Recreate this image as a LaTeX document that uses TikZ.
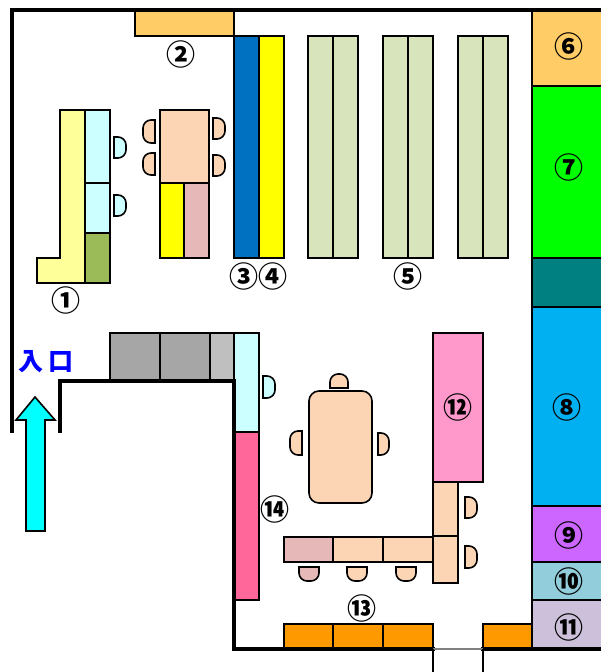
\documentclass[tikz,border=0pt]{standalone}
\usepackage{fontspec}
\newfontfamily\jpfont{Noto Sans CJK JP}
\definecolor{peach}{HTML}{FCD5B5}
\definecolor{palecyan}{HTML}{CCFFFF}
\definecolor{dustpink}{HTML}{E6B9B8}
\definecolor{sand}{HTML}{FFCC66}
\definecolor{sage}{HTML}{D8E4BC}
\definecolor{arrowcyan}{HTML}{00FFFF}
\definecolor{brightgreen}{HTML}{00FF00}
\definecolor{brightyellow}{HTML}{FFFF00}
\definecolor{entryblue}{HTML}{0000FF}
\tikzset{
  wall/.style={line width=4pt,line cap=rect,line join=miter},
  shelf/.style={draw,line width=2.4pt,line join=miter},
  chair/.style={draw,line width=1.6pt},
  num/.style={font=\jpfont\bfseries\fontsize{29}{29}\selectfont,inner sep=0pt},
}
\begin{document}
\begin{tikzpicture}[x=1pt,y=-1pt]
\useasboundingbox (0,0) rectangle (600,672);
%% upper left counters
\draw[shelf,fill=sand] (135,10) rectangle (234,36);
\draw[shelf,fill={rgb,255:red,255;green,255;blue,153}] (60,110) -- (85,110) -- (85,283) -- (37,283) -- (37,258) -- (60,258) -- cycle;
\draw[shelf,fill=palecyan] (85,110) rectangle (110,183);
\draw[shelf,fill=palecyan] (85,183) rectangle (110,233);
\draw[shelf,fill={rgb,255:red,155;green,187;blue,89}] (85,233) rectangle (110,283);
\draw[chair,fill=palecyan] (114,137) [rounded corners=8] -- (126,137) -- (126,158) [sharp corners] -- (114,158) -- cycle;
\draw[chair,fill=palecyan] (114,195) [rounded corners=8] -- (126,195) -- (126,216) [sharp corners] -- (114,216) -- cycle;
\draw[shelf,fill=peach] (160,110) rectangle (209,183);
\draw[shelf,fill=brightyellow] (160,183) rectangle (184,258);
\draw[shelf,fill=dustpink] (184,183) rectangle (209,258);
\draw[chair,fill=peach] (155,120) [rounded corners=8] -- (143,120) -- (143,143) [sharp corners] -- (155,143) -- cycle;
\draw[chair,fill=peach] (155,153) [rounded corners=8] -- (143,153) -- (143,175) [sharp corners] -- (155,175) -- cycle;
\draw[chair,fill=peach] (213,118) [rounded corners=8] -- (225,118) -- (225,139) [sharp corners] -- (213,139) -- cycle;
\draw[chair,fill=peach] (213,155) [rounded corners=8] -- (225,155) -- (225,176) [sharp corners] -- (213,176) -- cycle;
%% tall shelves
\draw[shelf,fill={rgb,255:red,0;green,112;blue,192}] (234,36) rectangle (259,258);
\draw[shelf,fill=brightyellow] (259,36) rectangle (284,258);
\foreach \xa in {308,383,458}{
  \draw[shelf,fill=sage] (\xa,36) rectangle ++(25,222);
  \draw[shelf,fill=sage] (\xa+25,36) rectangle ++(25,222);
}
%% right side cases
\draw[shelf,fill=sand] (532,10) rectangle (602,86);
\draw[shelf,fill=brightgreen] (532,86) rectangle (602,258);
\draw[shelf,fill={rgb,255:red,0;green,128;blue,128}] (532,258) rectangle (602,307);
\draw[shelf,fill={rgb,255:red,0;green,176;blue,240}] (532,307) rectangle (602,506);
\draw[shelf,fill={rgb,255:red,204;green,102;blue,255}] (532,506) rectangle (602,562);
\draw[shelf,fill={rgb,255:red,146;green,205;blue,220}] (532,562) rectangle (602,600);
\draw[shelf,fill={rgb,255:red,204;green,192;blue,218}] (532,600) rectangle (602,649);
%% entrance side
\draw[shelf,fill={rgb,255:red,166;green,166;blue,166}] (110,333) rectangle (160,381);
\draw[shelf,fill={rgb,255:red,166;green,166;blue,166}] (160,333) rectangle (210,381);
\draw[shelf,fill={rgb,255:red,191;green,191;blue,191}] (210,333) rectangle (234,381);
\draw[shelf,fill=palecyan] (234,333) rectangle (259,432);
\draw[shelf,fill={rgb,255:red,255;green,102;blue,153}] (234,432) rectangle (259,600);
\draw[chair,fill=palecyan] (263,376) [rounded corners=8] -- (275,376) -- (275,398) [sharp corners] -- (263,398) -- cycle;
\draw[line width=1.6pt,fill=arrowcyan,line join=miter] (35,397) -- (55,420) -- (45,420) -- (45,531) -- (26,531) -- (26,420) -- (16,420) -- cycle;
%% middle table
\draw[chair,fill=peach,rounded corners=10] (309,391) rectangle (372,503);
\draw[chair,fill=peach] (330,388) [rounded corners=8] -- (330,374) -- (348,374) [sharp corners] -- (348,388) -- cycle;
\draw[chair,fill=peach] (302,431) [rounded corners=8] -- (290,431) -- (290,455) [sharp corners] -- (302,455) -- cycle;
\draw[chair,fill=peach] (378,433) [rounded corners=8] -- (389,433) -- (389,455) [sharp corners] -- (378,455) -- cycle;
%% lower counters
\draw[shelf,fill={rgb,255:red,255;green,153;blue,204}] (433,333) rectangle (483,482);
\draw[shelf,fill=peach] (433,482) rectangle (458,536);
\draw[shelf,fill=peach] (433,536) rectangle (458,583);
\draw[shelf,fill=dustpink] (284,537) rectangle (333,562);
\draw[shelf,fill=peach] (333,537) rectangle (383,562);
\draw[shelf,fill=peach] (383,537) rectangle (433,562);
\draw[chair,fill=peach] (465,497) [rounded corners=8] -- (477,497) -- (477,518) [sharp corners] -- (465,518) -- cycle;
\draw[chair,fill=peach] (465,546) [rounded corners=8] -- (477,546) -- (477,568) [sharp corners] -- (465,568) -- cycle;
\draw[chair,fill=dustpink] (299,567) [rounded corners=8] -- (299,581) -- (319,581) [sharp corners] -- (319,567) -- cycle;
\draw[chair,fill=peach] (347,567) [rounded corners=8] -- (347,581) -- (367,581) [sharp corners] -- (367,567) -- cycle;
\draw[chair,fill=peach] (396,567) [rounded corners=8] -- (396,581) -- (416,581) [sharp corners] -- (416,567) -- cycle;
\foreach \xa in {284,333,383,483}{
  \draw[shelf,fill={rgb,255:red,255;green,153;blue,0}] (\xa,624) rectangle ++(\ifnum\xa=284 49\else\ifnum\xa=483 49\else 50\fi\fi,25);
}
%% walls
\draw[wall] (12,431) -- (12,10) -- (602,10);
\draw[wall] (60,431) -- (60,381) -- (234,381) -- (234,649) -- (433,649);
\draw[wall] (483,649) -- (602,649);
\draw[line width=1.2pt,gray] (433,649) -- (483,649);
\draw[line width=1.5pt] (433,649) -- (433,672);
\draw[line width=1.5pt] (483,649) -- (483,672);
%% labels
\node[num] (lab1) at (66,300) {①};
\node[num] (lab2) at (181,54) {②};
\node[num] (lab3) at (244,276) {③};
\node[num] (lab4) at (273,276) {④};
\node[num] (lab5) at (408,276) {⑤};
\node[num] (lab6) at (569,46) {⑥};
\node[num] (lab7) at (569,167) {⑦};
\node[num] (lab8) at (567,407) {⑧};
\node[num] (lab9) at (569,535) {⑨};
\node[num] (lab10) at (569,581) {⑩};
\node[num] (lab11) at (569,627) {⑪};
\node[num] (lab12) at (458,407) {⑫};
\node[num] (lab13) at (362,608) {⑬};
\node[num] (lab14) at (275,509) {⑭};
\node[text=entryblue,font=\jpfont\bfseries\fontsize{25}{25}\selectfont,inner sep=0pt] (entry) at (46,362) {入\hspace{5pt}口};
\end{tikzpicture}
\end{document}
